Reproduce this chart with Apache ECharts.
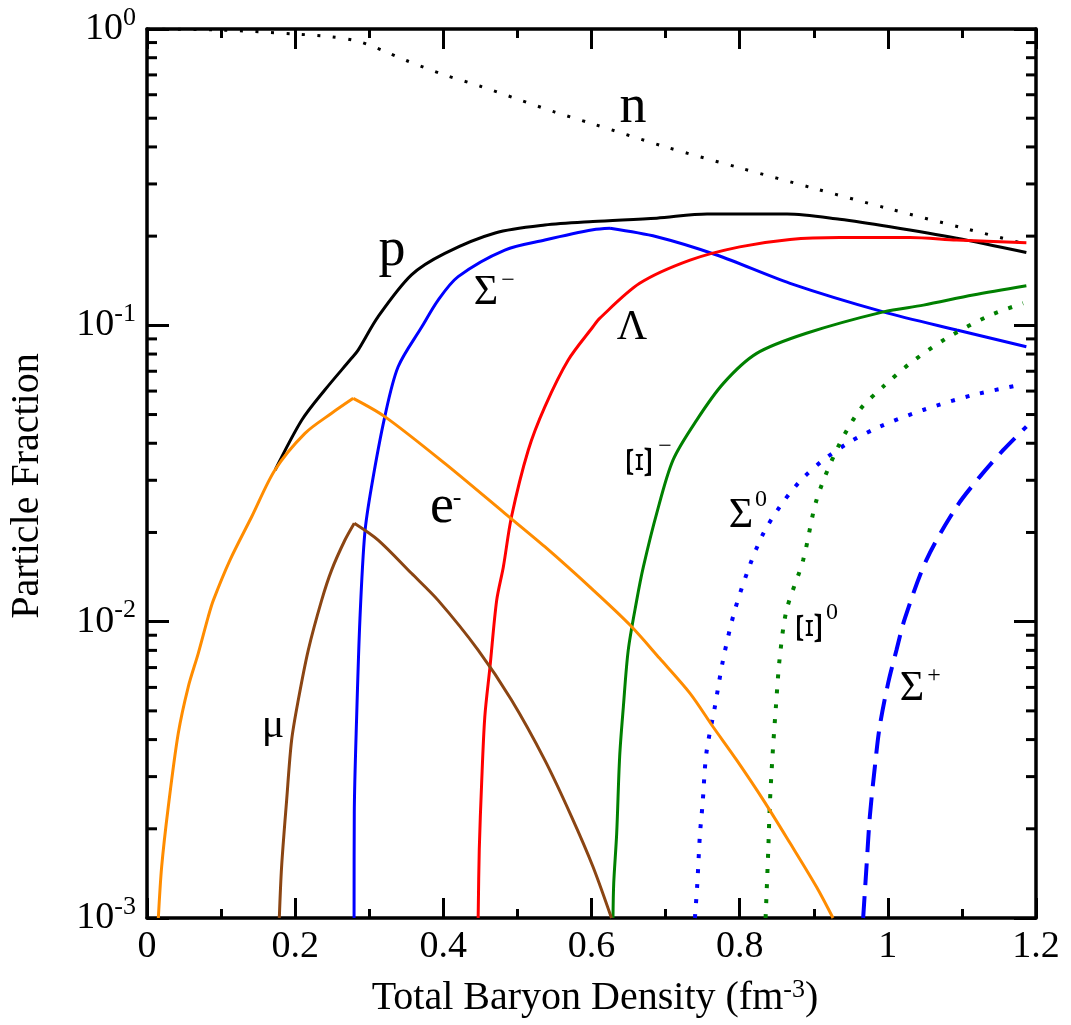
<!doctype html>
<html>
<head>
<meta charset="UTF-8"/>
<title>Particle Fraction</title>
<script src="https://cdn.jsdelivr.net/npm/echarts@6/dist/echarts.min.js"></script>
<style>
html,body{margin:0;padding:0;background:#fff;}
#chart{width:1071px;height:1025px;}
</style>
</head>
<body>
<div id="chart"></div>
<script>
// density (fm^-3), fraction
var nData = [[0,1],[0.1,0.992],[0.2,0.962],[0.25,0.94],[0.28,0.915],[0.3,0.883],[0.32,0.843],[0.35,0.783],[0.4,0.702],[0.45,0.641],[0.5,0.58],[0.55,0.525],[0.6,0.48],[0.7,0.40],[0.8,0.34],[0.9,0.29],[1.0,0.248],[1.1,0.2135],[1.19,0.187]];
var pData = [[0.173,0.0325],[0.209,0.0479],[0.24,0.0605],[0.276,0.0774],[0.285,0.0825],[0.312,0.107],[0.357,0.148],[0.402,0.175],[0.47,0.205],[0.537,0.218],[0.602,0.224],[0.688,0.23],[0.756,0.2376],[0.864,0.2376],[0.935,0.228],[1.003,0.215],[1.093,0.1966],[1.187,0.176]];
var sigmaMData = [[0.2795,0.001],[0.2798,0.00226],[0.283,0.00478],[0.2875,0.0103],[0.294,0.0199],[0.303,0.0285],[0.321,0.0492],[0.339,0.0725],[0.371,0.0989],[0.393,0.1217],[0.42,0.146],[0.483,0.1795],[0.537,0.194],[0.602,0.21],[0.625,0.2125],[0.688,0.199],[0.769,0.1727],[0.868,0.1386],[0.994,0.111],[1.093,0.0964],[1.187,0.0847]];
var lambdaData = [[0.447,0.001],[0.4485,0.0017],[0.4517,0.00285],[0.456,0.00478],[0.463,0.00705],[0.472,0.0118],[0.481,0.0153],[0.492,0.0226],[0.5146,0.0379],[0.537,0.0531],[0.5686,0.0764],[0.602,0.0989],[0.611,0.1056],[0.665,0.1386],[0.733,0.166],[0.80,0.184],[0.868,0.195],[0.935,0.198],[1.03,0.198],[1.093,0.194],[1.187,0.19]];
var xiMData = [[0.629,0.001],[0.63,0.00131],[0.634,0.00193],[0.638,0.0035],[0.643,0.00516],[0.6496,0.00802],[0.661,0.0118],[0.67,0.0153],[0.688,0.0232],[0.71,0.0351],[0.742,0.0479],[0.778,0.0637],[0.823,0.0804],[0.89,0.094],[0.994,0.111],[1.048,0.117],[1.115,0.1265],[1.187,0.136]];
var sigma0Data = [[0.7396,0.001],[0.7427,0.00129],[0.7463,0.0019],[0.75,0.00244],[0.755,0.00359],[0.7665,0.00516],[0.778,0.00752],[0.7935,0.01094],[0.8137,0.0155],[0.832,0.01986],[0.854,0.0244],[0.881,0.0297],[0.9127,0.0351],[0.9487,0.0404],[0.989,0.0455],[1.0477,0.0518],[1.115,0.0582],[1.178,0.0629]];
var xi0Data = [[0.835,0.001],[0.8385,0.00167],[0.8408,0.00244],[0.8444,0.00355],[0.8489,0.00516],[0.854,0.00752],[0.8633,0.01094],[0.8857,0.01614],[0.9037,0.0257],[0.9307,0.0379],[0.962,0.0518],[0.9937,0.0621],[1.03,0.0744],[1.079,0.0904],[1.1377,0.108],[1.1826,0.1187]];
var sigmaPData = [[0.9667,0.001],[0.9712,0.00149],[0.9757,0.0022],[0.9825,0.00324],[0.989,0.00442],[1.0004,0.0062],[1.0117,0.00802],[1.023,0.01026],[1.052,0.01614],[1.0927,0.0244],[1.124,0.0308],[1.1556,0.0379],[1.187,0.0455]];
var eData = [[0.0153,0.001],[0.0198,0.00149],[0.0287,0.00237],[0.0422,0.0042],[0.0557,0.00603],[0.0692,0.00782],[0.0827,0.0104],[0.0895,0.0118],[0.112,0.01614],[0.1413,0.0226],[0.1727,0.0325],[0.2132,0.0432],[0.2492,0.0505],[0.2784,0.0567],[0.321,0.0492],[0.402,0.0342],[0.483,0.0232],[0.537,0.0179],[0.602,0.0128],[0.652,0.00974],[0.692,0.00752],[0.733,0.00573],[0.764,0.00442],[0.796,0.00341],[0.832,0.0025],[0.868,0.00179],[0.904,0.00127],[0.926,0.001]];
var muData = [[0.1786,0.001],[0.1817,0.00149],[0.1885,0.0025],[0.1952,0.00398],[0.2042,0.00544],[0.2177,0.00802],[0.2357,0.0118],[0.2492,0.01493],[0.2672,0.01886],[0.2798,0.0215],[0.312,0.01886],[0.357,0.01456],[0.393,0.0118],[0.447,0.00802],[0.492,0.00544],[0.537,0.00341],[0.573,0.0022],[0.602,0.00149],[0.627,0.001]];

var xTicks = [0, 1.2, 0.2];      // min, max, step
var yRange = [0.001, 1];

var FONT = "'Liberation Serif','Times New Roman',serif";

// minor ticks of the log axis: 2..9 in each decade
var yMinor = [];
for (var d = 0.001; d < 0.9; d *= 10) {
    for (var k = 2; k <= 9; k++) yMinor.push([0, k * d]);
}

var myChart = echarts.init(document.getElementById('chart'));

function curve(name, data, color, width, type) {
    return {
        name: name, type: 'line', data: data,
        showSymbol: false, symbol: 'none', silent: true,
        smooth: 0.3,
        lineStyle: { color: color, width: width, type: type || 'solid', cap: 'butt' }
    };
}

// curves with a sharp peak: draw rise and fall separately so the kink stays sharp
function peaked(name, data, color, width) {
    var iMax = 0;
    data.forEach(function (d, i) { if (d[1] > data[iMax][1]) iMax = i; });
    return [
        curve(name, data.slice(0, iMax + 1), color, width),
        curve(name, data.slice(iMax), color, width)
    ];
}

var xAxisBase = {
    type: 'value', min: xTicks[0], max: xTicks[1], interval: xTicks[2],
    axisLine: { show: true, onZero: false, lineStyle: { color: '#000', width: 3.5 } },
    axisTick: { show: true, inside: true, length: 20, lineStyle: { color: '#000', width: 3 } },
    minorTick: { show: true, splitNumber: 2, length: 9, lineStyle: { color: '#000', width: 3 } },
    splitLine: { show: false }
};
var yAxisBase = {
    type: 'log', logBase: 10, min: yRange[0], max: yRange[1],
    axisLine: { show: true, onZero: false, lineStyle: { color: '#000', width: 3.5 } },
    axisTick: { show: true, inside: true, length: 22, lineStyle: { color: '#000', width: 3 } },
    splitLine: { show: false }
};

option = {
    animation: false,
    backgroundColor: '#fff',
    grid: { left: 147, right: 35, top: 29, bottom: 107, containLabel: false },
    xAxis: [
        echarts.util.merge({
            position: 'bottom',
            axisLabel: { fontSize: 38, fontFamily: FONT, color: '#000', margin: 10 }
        }, xAxisBase, true),
        echarts.util.merge({ position: 'top', axisLabel: { show: false } }, xAxisBase, true)
    ],
    yAxis: [
        echarts.util.merge({
            position: 'left',
            axisLabel: {
                margin: 11, color: '#000',
                formatter: function (v) {
                    return '{b|10}{s|' + Math.round(Math.log10(v)) + '}';
                },
                rich: {
                    b: { fontSize: 38, fontFamily: FONT, color: '#000' },
                    s: { fontSize: 26, fontFamily: FONT, color: '#000', padding: [0, 0, 22, 0] }
                }
            }
        }, yAxisBase, true),
        echarts.util.merge({ position: 'right', axisLabel: { show: false } }, yAxisBase, true)
    ],
    series: [
        curve('n', nData, '#000', 3, [3, 12.5]),
        curve('p', pData, '#000', 3)
    ].concat(
        peaked('Σ-', sigmaMData, '#0000ff', 3),
        [
            curve('Λ', lambdaData, '#ff0000', 3),
            curve('Ξ-', xiMData, '#008000', 3),
            curve('Σ0', sigma0Data, '#0000ff', 4, [4, 11]),
            curve('Ξ0', xi0Data, '#008000', 4, [4, 11]),
            curve('Σ+', sigmaPData, '#0000ff', 4, [22, 11])
        ],
        peaked('μ', muData, '#8b4513', 3),
        peaked('e-', eData, '#ff8c00', 3),
        [{
            type: 'custom', silent: true, data: yMinor,
            encode: { x: 0, y: 1 },
            renderItem: function (params, api) {
                var v = api.value(1);
                var l = api.coord([xTicks[0], v]);
                var r = api.coord([xTicks[1], v]);
                var st = { stroke: '#000', lineWidth: 3 };
                return {
                    type: 'group',
                    children: [
                        { type: 'line', shape: { x1: l[0], y1: l[1], x2: l[0] + 10, y2: l[1] }, style: st },
                        { type: 'line', shape: { x1: r[0] - 10, y1: r[1], x2: r[0], y2: r[1] }, style: st }
                    ]
                };
            }
        }]
    )
};

myChart.setOption(option);

// text labels next to the curves (pixel positions)
function label(t, x, y, size, rot, stretch) {
    return {
        type: 'text', x: x, y: y, rotation: rot || 0, scaleX: stretch || 1, silent: true,
        style: { text: t, fontSize: size, fontFamily: FONT, fill: '#000', align: 'center', verticalAlign: 'middle' }
    };
}

var graphics = [
    label('n', 633, 108, 54),
    label('p', 392, 251, 54),
    label('Σ', 486, 293, 42), label('−', 508, 281, 24),
    label('Λ', 632, 328, 42),
    label('e', 442, 508, 54), label('-', 457, 498, 26),
    label('μ', 273, 726, 42),
    label('Ξ', 642, 462, 36, Math.PI / 2, 1.5), label('−', 665, 447, 24),
    label('Σ', 741, 516, 42), label('0', 761, 500, 24),
    label('Ξ', 812, 628, 36, Math.PI / 2, 1.5), label('0', 832, 613, 24),
    label('Σ', 912, 689, 42), label('+', 934, 676, 24),
    {
        type: 'text', x: 595, y: 998, silent: true,
        style: {
            text: '{b|Total Baryon Density (fm}{s|-3}{b|)}',
            align: 'center', verticalAlign: 'middle',
            rich: {
                b: { fontSize: 40, fontFamily: FONT, fill: '#000' },
                s: { fontSize: 26, fontFamily: FONT, fill: '#000', padding: [0, 0, 16, 0] }
            }
        }
    },
    {
        type: 'text', x: 27, y: 486, rotation: Math.PI / 2, silent: true,
        style: { text: 'Particle Fraction', fontSize: 40, fontFamily: FONT, fill: '#000', align: 'center', verticalAlign: 'middle' }
    }
];

myChart.setOption({ graphic: graphics });
</script>
</body>
</html>
